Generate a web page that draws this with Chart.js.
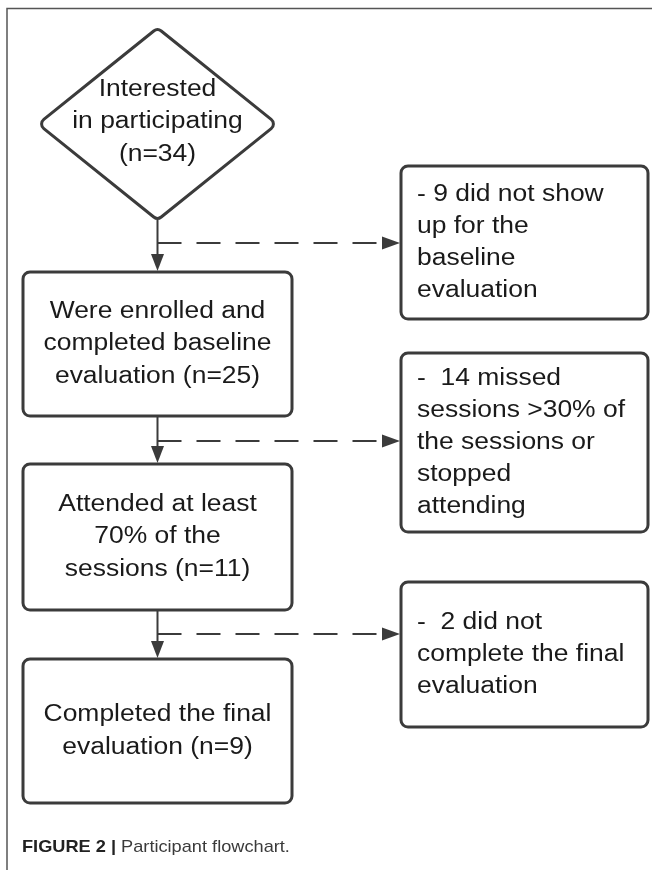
<!DOCTYPE html>
<html>
<head>
<meta charset="utf-8">
<script src="https://cdn.jsdelivr.net/npm/chart.js@4.4.1/dist/chart.umd.min.js"></script>
<style>
  html, body { margin: 0; padding: 0; background: #ffffff; }
  #wrap { width: 652px; height: 870px; }
</style>
</head>
<body>
<div id="wrap"><canvas id="flowChart" width="652" height="870"></canvas></div>
<script>
// data: participants at each step and those excluded between steps
const stepCounts = [34, 25, 11, 9];
const stepLabels = [
  ["Interested", "in participating", `(n=${stepCounts[0]})`],
  ["Were enrolled and", "completed baseline", `evaluation (n=${stepCounts[1]})`],
  ["Attended at least", "70% of the", `sessions (n=${stepCounts[2]})`],
  ["Completed the final", `evaluation (n=${stepCounts[3]})`],
];
const excludedCounts = [9, 14, 2];
const excludedLabels = [
  [`- ${excludedCounts[0]} did not show`, "up for the", "baseline", "evaluation"],
  [`-  ${excludedCounts[1]} missed`, "sessions >30% of", "the sessions or", "stopped", "attending"],
  [`-  ${excludedCounts[2]} did not`, "complete the final", "evaluation"],
];
const captionBold = "FIGURE 2 |";
const captionText = " Participant flowchart.";

// layout (page units, same as the hidden axes)
const stepX = [23, 292];
const stepBoxY = [[28, 220], [272, 416], [464, 610], [659, 803]];
const sideX = [401, 648];
const sideBoxY = [[166, 319], [353, 532], [582, 727]];
const dashY = [243, 441, 634];

const INK = "#3b3b3b";
const TEXT = "#1a1a1a";
const FONT = "23px 'Liberation Sans', Arial, sans-serif";
const SX = 1.15; // text in the figure is a little wide

function roundRect(ctx, x0, y0, x1, y1, r) {
  ctx.beginPath();
  ctx.moveTo(x0 + r, y0);
  ctx.arcTo(x1, y0, x1, y1, r);
  ctx.arcTo(x1, y1, x0, y1, r);
  ctx.arcTo(x0, y1, x0, y0, r);
  ctx.arcTo(x0, y0, x1, y0, r);
  ctx.closePath();
}

function diamond(ctx, cx, cy, hw, hh, r) {
  const pts = [[cx, cy - hh], [cx + hw, cy], [cx, cy + hh], [cx - hw, cy]];
  ctx.beginPath();
  const m0 = [(pts[3][0] + pts[0][0]) / 2, (pts[3][1] + pts[0][1]) / 2];
  ctx.moveTo(m0[0], m0[1]);
  for (let i = 0; i < 4; i++) {
    const p = pts[i], q = pts[(i + 1) % 4];
    ctx.arcTo(p[0], p[1], q[0], q[1], r);
  }
  ctx.closePath();
}

function stretchedText(ctx, s, x, y, align, k) {
  ctx.save();
  ctx.translate(x, y);
  ctx.scale(k || SX, 1);
  ctx.textAlign = align;
  ctx.fillText(s, 0, 0);
  ctx.restore();
}

function arrowHead(ctx, tx, ty, dir) {
  // dir: "down" or "right"
  ctx.beginPath();
  if (dir === "down") {
    ctx.moveTo(tx, ty);
    ctx.lineTo(tx - 6.5, ty - 17);
    ctx.lineTo(tx + 6.5, ty - 17);
  } else {
    ctx.moveTo(tx, ty);
    ctx.lineTo(tx - 18, ty - 6.5);
    ctx.lineTo(tx - 18, ty + 6.5);
  }
  ctx.closePath();
  ctx.fill();
}

const flowPlugin = {
  id: "flowPlugin",
  afterDraw(chart) {
    const ctx = chart.ctx;
    const sx = chart.scales.x, sy = chart.scales.y;
    const px = v => sx.getPixelForValue(v);
    const py = v => sy.getPixelForValue(v);
    const midX = px((stepX[0] + stepX[1]) / 2);

    ctx.save();
    ctx.fillStyle = "#ffffff";
    ctx.fillRect(0, 0, chart.width, chart.height);

    // figure frame
    ctx.strokeStyle = "#555555";
    ctx.lineWidth = 1.5;
    ctx.beginPath();
    ctx.moveTo(px(7), py(870));
    ctx.lineTo(px(7), py(8.5));
    ctx.lineTo(px(652), py(8.5));
    ctx.stroke();

    ctx.strokeStyle = INK;
    ctx.fillStyle = INK;
    ctx.lineJoin = "round";

    // vertical connectors
    ctx.lineWidth = 2;
    for (let i = 0; i < stepBoxY.length - 1; i++) {
      const y0 = py(stepBoxY[i][1]), y1 = py(stepBoxY[i + 1][0]);
      ctx.beginPath();
      ctx.moveTo(midX, y0);
      ctx.lineTo(midX, y1 - 10);
      ctx.stroke();
      arrowHead(ctx, midX, y1 - 1, "down");
    }

    // dashed exclusion arrows
    ctx.setLineDash([24, 15]);
    dashY.forEach(y => {
      ctx.beginPath();
      ctx.moveTo(midX, py(y));
      ctx.lineTo(px(sideX[0]) - 14, py(y));
      ctx.stroke();
    });
    ctx.setLineDash([]);
    dashY.forEach(y => arrowHead(ctx, px(sideX[0]) - 1, py(y), "right"));

    // step shapes
    ctx.lineWidth = 3;
    stepBoxY.forEach((b, i) => {
      if (i === 0) {
        const cy = (b[0] + b[1]) / 2;
        diamond(ctx, midX, py(cy), px(277) - midX, py(cy) - py(b[0]), 6);
      } else {
        roundRect(ctx, px(stepX[0]), py(b[0]), px(stepX[1]), py(b[1]), 7);
      }
      ctx.fillStyle = "#ffffff";
      ctx.fill();
      ctx.stroke();
    });
    sideBoxY.forEach(b => {
      roundRect(ctx, px(sideX[0]), py(b[0]), px(sideX[1]), py(b[1]), 7);
      ctx.fillStyle = "#ffffff";
      ctx.fill();
      ctx.stroke();
    });

    // texts
    const LH = 32.8;
    ctx.fillStyle = TEXT;
    ctx.font = FONT;
    ctx.textBaseline = "middle";
    stepLabels.forEach((lines, i) => {
      const b = stepBoxY[i];
      const cy = (b[0] + b[1]) / 2 - (i === 0 ? 2 : 0);
      lines.forEach((s, k) => {
        const y = cy + (k - (lines.length - 1) / 2) * LH;
        stretchedText(ctx, s, midX, py(y), "center");
      });
    });
    excludedLabels.forEach((lines, i) => {
      const b = sideBoxY[i];
      const cy = (b[0] + b[1]) / 2;
      lines.forEach((s, k) => {
        const y = cy + (k - (lines.length - 1) / 2) * 32;
        stretchedText(ctx, s, px(417), py(y), "left");
      });
    });

    // caption
    ctx.textBaseline = "middle";
    ctx.font = "bold 17px 'Liberation Sans', Arial, sans-serif";
    ctx.fillStyle = "#222222";
    ctx.save();
    ctx.translate(px(22), py(847));
    ctx.scale(1.07, 1);
    ctx.textAlign = "left";
    ctx.fillText(captionBold, 0, 0);
    const bw = ctx.measureText(captionBold).width;
    ctx.font = "17px 'Liberation Sans', Arial, sans-serif";
    ctx.fillStyle = "#3a3a3a";
    ctx.fillText(captionText, bw, 0);
    ctx.restore();

    ctx.restore();
  },
};

new Chart(document.getElementById("flowChart"), {
  type: "scatter",
  data: {
    datasets: [{
      label: "steps",
      data: stepCounts.map((n, i) => ({ x: (stepX[0] + stepX[1]) / 2, y: (stepBoxY[i][0] + stepBoxY[i][1]) / 2, n })),
      pointRadius: 0,
    }],
  },
  options: {
    responsive: false,
    animation: false,
    layout: { padding: 0 },
    scales: {
      x: { type: "linear", min: 0, max: 652, display: false },
      y: { type: "linear", min: 0, max: 870, reverse: true, display: false },
    },
    plugins: { legend: { display: false }, tooltip: { enabled: false } },
  },
  plugins: [flowPlugin],
});
</script>
</body>
</html>
